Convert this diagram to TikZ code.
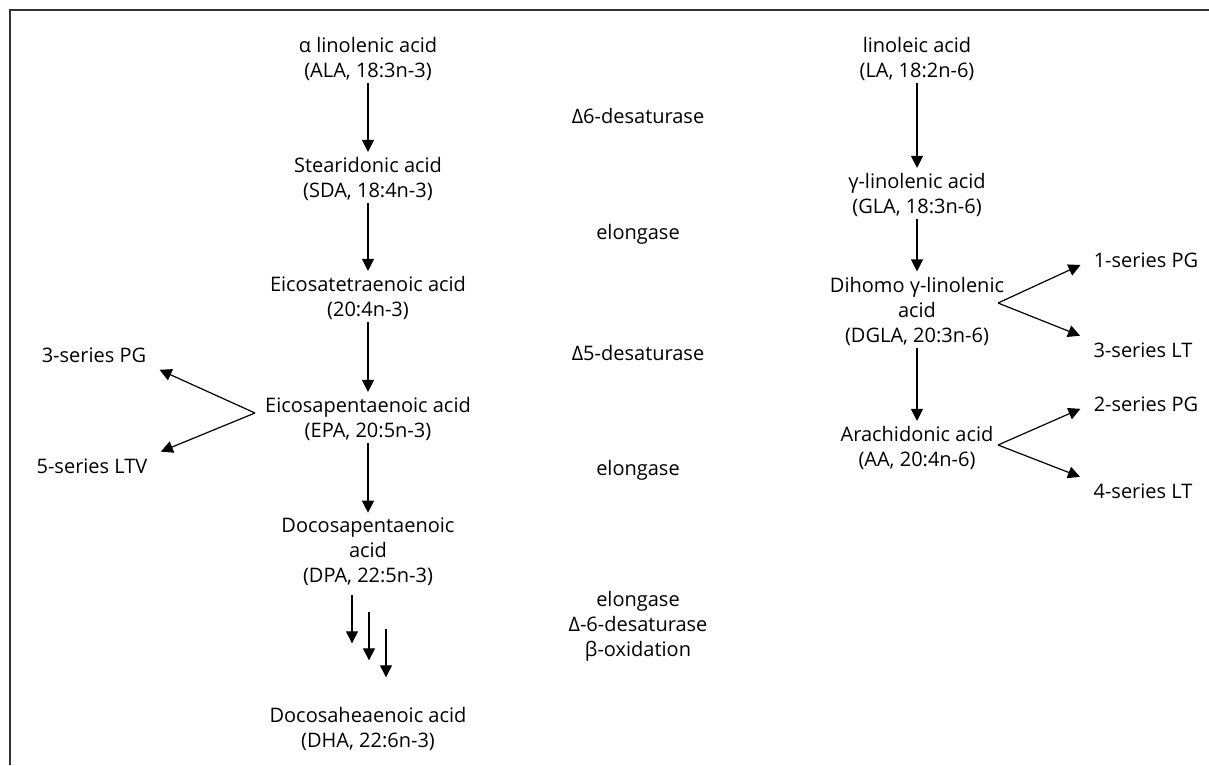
\documentclass[tikz,border=0pt]{standalone}
\usepackage{fontspec}
\setmainfont{Open Sans}
\usetikzlibrary{arrows.meta,calc}

\begin{document}
\begin{tikzpicture}[x=0.5pt,y=-0.5pt]
  \tikzset{acid/.style={align=center,inner sep=1pt,font=\fontsize{10}{12.5}\selectfont},
    enzyme/.style={acid},
    conv/.style={-{Triangle[length=6pt,width=6pt]},line width=0.6pt,shorten >=1.5pt},
    branch/.style={conv,shorten >=6pt},
    frameline/.style={line width=1pt,draw=black!80}}
  \useasboundingbox (0,0) rectangle (1209,765);
  \draw[frameline] (10,765) -- (10,10) -- (1209,10);
  % n-3 series
  \node[acid] (ala) at (368,59) {α linolenic acid\\(ALA, 18:3n-3)};
  \node[acid] (sda) at (368,179) {Stearidonic acid\\(SDA, 18:4n-3)};
  \node[acid] (eta) at (368,298) {Eicosatetraenoic acid\\(20:4n-3)};
  \node[acid] (epa) at (368,419) {Eicosapentaenoic acid\\(EPA, 20:5n-3)};
  \node[acid] (dpa) at (368,552) {Docosapentaenoic\\acid\\(DPA, 22:5n-3)};
  \node[acid] (dha) at (368,729) {Docosaheaenoic acid\\(DHA, 22:6n-3)};
  \node[acid] (pg3) at (94,355) {3-series PG};
  \node[acid] (ltv5) at (92,466) {5-series LTV};
  \coordinate (epafork) at (255,413);
  % enzymes
  \node[enzyme] (d6) at (638,116) {Δ6-desaturase};
  \node[enzyme] (elo1) at (638,234) {elongase};
  \node[enzyme] (d5) at (638,353) {Δ5-desaturase};
  \node[enzyme] (elo2) at (638,470) {elongase};
  \node[enzyme] (last) at (638,626) {elongase\\Δ-6-desaturase\\β-oxidation};
  % n-6 series
  \node[acid] (la) at (917,59) {linoleic acid\\(LA, 18:2n-6)};
  \node[acid] (gla) at (917,195) {γ-linolenic acid\\(GLA, 18:3n-6)};
  \node[acid] (dgla) at (917,311) {Dihomo γ-linolenic\\acid\\(DGLA, 20:3n-6)};
  \node[acid] (aa) at (917,448) {Arachidonic acid\\(AA, 20:4n-6)};
  \node[acid] (pg1) at (1146,260) {1-series PG};
  \node[acid] (lt3) at (1143,350) {3-series LT};
  \node[acid] (pg2) at (1146,404) {2-series PG};
  \node[acid] (lt4) at (1143,491) {4-series LT};
  \coordinate (dglafork) at (998,303);
  \coordinate (aafork) at (998,445);

  \draw[conv] (ala) -- (sda);
  \draw[conv] (sda) -- (eta);
  \draw[conv] (eta) -- (epa);
  \draw[conv] (epa) -- (dpa);
  \foreach \i in {0,1,2}
    \draw[conv] ([shift={(-16+17*\i,7+17*\i)}]dpa.south) -- ++(0,51);
  \draw[branch] (epafork) -- (pg3.south east);
  \draw[branch] (epafork) -- (ltv5.north east);
  \draw[conv] (la) -- (gla);
  \draw[conv] (gla) -- (dgla);
  \draw[conv] (dgla) -- (aa);
  \draw[branch] (dglafork) -- (pg1.west);
  \draw[branch] (dglafork) -- (lt3.north west);
  \draw[branch] (aafork) -- (pg2.west);
  \draw[branch] (aafork) -- (lt4.north west);
\end{tikzpicture}
\end{document}
